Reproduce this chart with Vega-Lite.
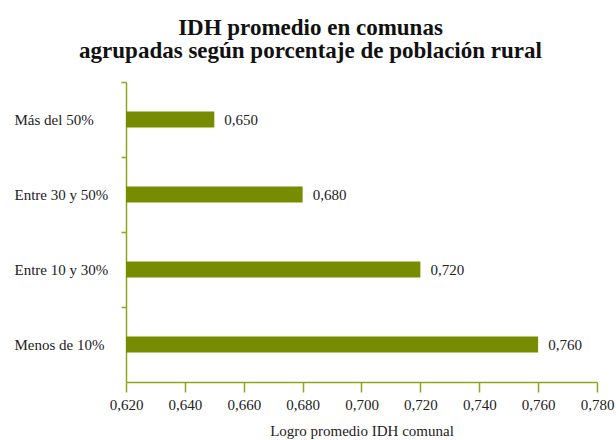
{
  "$schema": "https://vega.github.io/schema/vega-lite/v6.json",
  "width": 471,
  "height": 300,
  "autosize": "none",
  "padding": {"left": 126, "top": 82, "right": 19, "bottom": 58},
  "background": "white",
  "title": {
    "text": ["IDH promedio en comunas", "agrupadas según porcentaje de población rural"],
    "font": "Liberation Serif",
    "fontSize": 23,
    "fontWeight": "bold",
    "color": "#111111",
    "anchor": "middle",
    "dx": -51,
    "lineHeight": 23,
    "offset": 18
  },
  "config": {
    "locale": {"number": {"decimal": ",", "thousands": ".", "grouping": [3], "currency": ["", " €"]}},
    "view": {"stroke": null},
    "axis": {
      "labelFont": "Liberation Serif",
      "titleFont": "Liberation Serif",
      "labelColor": "#222222",
      "titleColor": "#222222",
      "domainColor": "#8ea61c",
      "tickColor": "#8ea61c",
      "domainWidth": 1.5,
      "tickWidth": 1.5,
      "grid": false
    }
  },
  "data": {
    "values": [
      {"grupo": "Más del 50%", "idh": 0.650},
      {"grupo": "Entre 30 y 50%", "idh": 0.680},
      {"grupo": "Entre 10 y 30%", "idh": 0.720},
      {"grupo": "Menos de 10%", "idh": 0.760}
    ]
  },
  "encoding": {
    "y": {
      "field": "grupo",
      "type": "nominal",
      "sort": null,
      "scale": {"paddingInner": 0, "paddingOuter": 0},
      "axis": {
        "title": null,
        "bandPosition": 0,
        "labelAlign": "left",
        "labelBaseline": "middle",
        "labelPadding": 107,
        "tickSize": 5,
        "labelFontSize": 15
      }
    }
  },
  "layer": [
    {
      "mark": {"type": "bar", "size": 16, "color": "#788c00"},
      "encoding": {
        "x": {
          "field": "idh",
          "type": "quantitative",
          "scale": {"domain": [0.62, 0.78], "zero": false, "nice": false},
          "axis": {
            "title": "Logro promedio IDH comunal",
            "titleFontSize": 15,
            "titleFontWeight": "normal",
            "titlePadding": 11,
            "format": ".3f",
            "values": [0.62, 0.64, 0.66, 0.68, 0.70, 0.72, 0.74, 0.76, 0.78],
            "tickSize": 10,
            "labelFontSize": 15,
            "labelPadding": 5,
            "labelFlush": false,
            "labelOverlap": false
          }
        },
        "x2": {"datum": 0.62}
      }
    },
    {
      "mark": {"type": "text", "align": "left", "baseline": "middle", "dx": 10, "font": "Liberation Serif", "fontSize": 15, "color": "#222222"},
      "encoding": {
        "x": {"field": "idh", "type": "quantitative"},
        "text": {"field": "idh", "type": "quantitative", "format": ".3f"}
      }
    }
  ]
}
